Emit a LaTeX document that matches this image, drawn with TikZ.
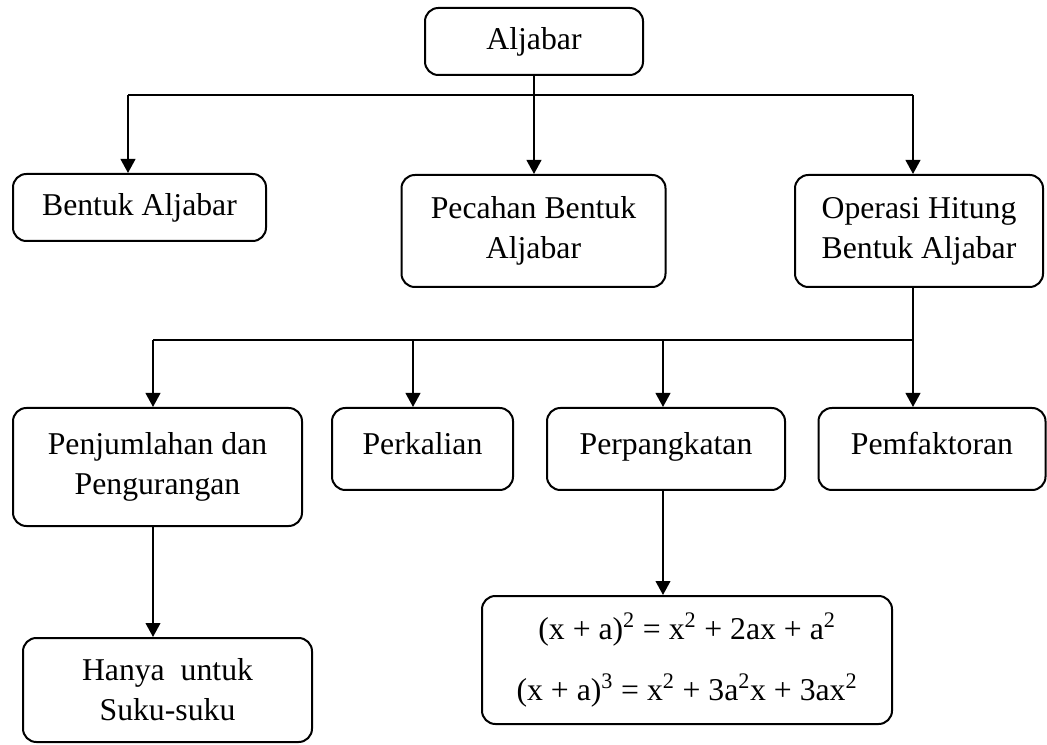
\documentclass[tikz,border=0pt]{standalone}
\usepackage{fontspec}
\setmainfont{Liberation Serif}
\usetikzlibrary{arrows.meta}
\begin{document}
\begin{tikzpicture}[x=0.75pt,y=-0.75pt,
  box/.style={draw, line width=1.5pt, rounded corners=10pt, inner sep=0pt,
    align=center, font=\fontsize{23.8}{30}\selectfont},
  conn/.style={line width=1.4pt},
  arr/.style={line width=1.5pt, -{Triangle[width=11pt,length=10.5pt]}},
  lowtext/.style={text depth=9pt}]
\useasboundingbox (0,0) rectangle (1047,745);
% nodes
\node[box, minimum width=163.5pt, minimum height=50.25pt] (alj) at (534,41.5) {Aljabar};
\node[box, minimum width=189.75pt, minimum height=50.25pt] (bent) at (139.5,207.5) {Bentuk Aljabar};
\node[box, minimum width=198pt, minimum height=84pt] (pec) at (533.5,231) {Pecahan Bentuk\\Aljabar};
\node[box, minimum width=186pt, minimum height=84pt] (ops) at (919,231) {Operasi Hitung\\Bentuk Aljabar};
\node[box, minimum width=216.75pt, minimum height=88.5pt] (penj) at (157.5,467) {Penjumlahan dan\\Pengurangan};
\node[box, lowtext, minimum width=135.75pt, minimum height=61.5pt] (perk) at (422.5,449) {Perkalian};
\node[box, lowtext, minimum width=178.5pt, minimum height=61.5pt] (perp) at (666,449) {Perpangkatan};
\node[box, lowtext, minimum width=170.25pt, minimum height=61.5pt] (pemf) at (932,449) {Pemfaktoran};
\node[box, minimum width=216.75pt, minimum height=78pt] (hanya) at (167.5,690) {Hanya\ \ untuk\\Suku-suku};
\node[box, minimum width=307.5pt, minimum height=96pt] (form) at (687,660)
  {(x + a)\textsuperscript{2} = x\textsuperscript{2} + 2ax + a\textsuperscript{2}\\[16pt]
   (x + a)\textsuperscript{3} = x\textsuperscript{2} + 3a\textsuperscript{2}x + 3ax\textsuperscript{2}};
% first level bus
\coordinate (a1) at (128,95);
\coordinate (a3) at (913,95);
\draw[conn] (a1) -- (a3);
\draw[arr] (alj.south) -- (alj.south |- pec.north);
\draw[arr] (a1) -- (a1 |- bent.north);
\draw[arr] (a3) -- (a3 |- ops.north);
% second level bus
\coordinate (b1) at (153,340);
\coordinate (b2) at (413,340);
\coordinate (b3) at (663,340);
\coordinate (b4) at (913,340);
\draw[conn] (b1) -- (b4);
\draw[arr] (b4 |- ops.south) -- (b4 |- pemf.north);
\draw[arr] (b1) -- (b1 |- penj.north);
\draw[arr] (b2) -- (b2 |- perk.north);
\draw[arr] (b3) -- (b3 |- perp.north);
% third level
\draw[arr] (b1 |- penj.south) -- (b1 |- hanya.north);
\draw[arr] (b3 |- perp.south) -- (b3 |- form.north);
\end{tikzpicture}
\end{document}
